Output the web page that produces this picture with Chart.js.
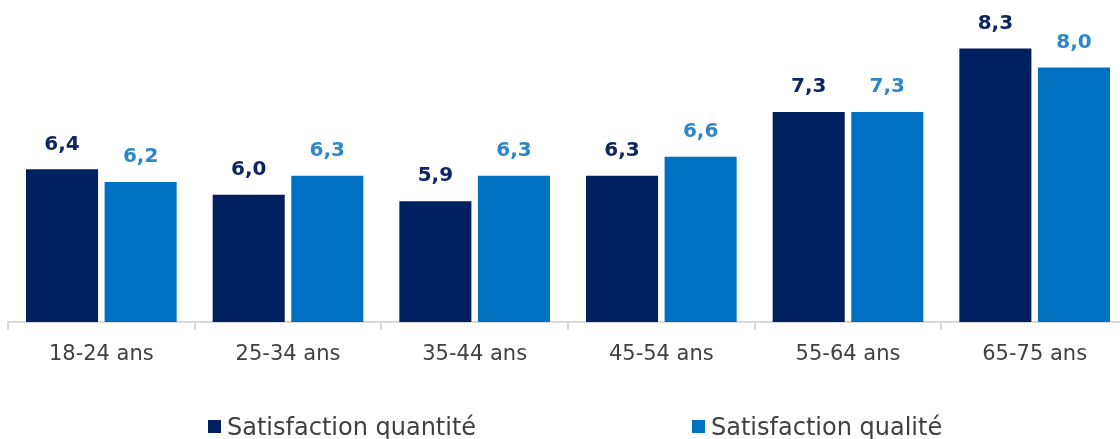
<!DOCTYPE html>
<html>
<head>
<meta charset="utf-8">
<script src="https://cdn.jsdelivr.net/npm/chart.js@4"></script>
<style>
  html, body { margin: 0; padding: 0; background: #fff; overflow: hidden; }
</style>
</head>
<body>
<canvas id="myChart" width="1128" height="439"></canvas>
<script>
// age groups on the x axis
const categories = ['18-24 ans', '25-34 ans', '35-44 ans', '45-54 ans', '55-64 ans', '65-75 ans'];
// satisfaction scores
const quantite = [6.4, 6.0, 5.9, 6.3, 7.3, 8.3];
const qualite = [6.2, 6.3, 6.3, 6.6, 7.3, 8.0];
const seriesNames = ['Satisfaction quantité', 'Satisfaction qualité'];

const DARK = '#002060';
const LIGHT = '#0070C0';
const LABEL_COLORS = ['#0d2561', '#2e86c9'];
const FONT = '"DejaVu Sans", sans-serif';

// writes the value above each bar, french style (6,4)
const valueLabels = {
  id: 'valueLabels',
  afterDatasetsDraw(chart) {
    const ctx = chart.ctx;
    ctx.save();
    ctx.font = 'bold 20px ' + FONT;
    ctx.textAlign = 'center';
    ctx.textBaseline = 'middle';
    chart.data.datasets.forEach(function (ds, i) {
      const meta = chart.getDatasetMeta(i);
      ctx.fillStyle = LABEL_COLORS[i];
      meta.data.forEach(function (bar, j) {
        const txt = ds.data[j].toFixed(1).replace('.', ',');
        ctx.fillText(txt, bar.x, bar.y - 25);
      });
    });
    ctx.restore();
  }
};

// legend drawn by hand so the two items can sit far apart
const bottomLegend = {
  id: 'bottomLegend',
  afterDraw(chart) {
    const ctx = chart.ctx;
    const xs = [208, 692];
    ctx.save();
    ctx.font = '24px ' + FONT;
    ctx.textBaseline = 'middle';
    chart.data.datasets.forEach(function (ds, i) {
      ctx.fillStyle = ds.backgroundColor;
      ctx.fillRect(xs[i], 420, 13, 13);
      ctx.fillStyle = '#404040';
      ctx.fillText(ds.label, xs[i] + 19, 429);
    });
    ctx.restore();
  }
};

const chart = new Chart(document.getElementById('myChart').getContext('2d'), {
  type: 'bar',
  data: {
    labels: categories,
    datasets: [
      { label: seriesNames[0], data: quantite, backgroundColor: DARK },
      { label: seriesNames[1], data: qualite, backgroundColor: LIGHT }
    ]
  },
  options: {
    responsive: false,
    animation: false,
    devicePixelRatio: 1,
    categoryPercentage: 0.842,
    barPercentage: 0.917,
    layout: { padding: { left: 8, top: 4, right: 0, bottom: 0 } },
    plugins: {
      legend: { display: false },
      tooltip: { enabled: false }
    },
    scales: {
      y: { display: false, min: 4, max: 9 },
      x: {
        afterFit: function (axis) { axis.height = 117; },
        grid: { drawOnChartArea: false, drawTicks: true, tickLength: 8, color: '#d9d9d9', offset: true, lineWidth: 2 },
        border: { display: true, color: '#d9d9d9', width: 2 },
        ticks: { color: '#404040', font: { family: FONT, size: 21 }, padding: 12 }
      }
    }
  },
  plugins: [valueLabels, bottomLegend]
});
</script>
</body>
</html>
